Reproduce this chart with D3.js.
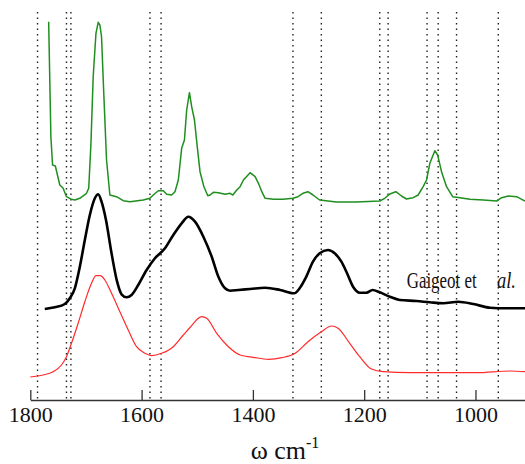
<!DOCTYPE html>
<html>
<head>
<meta charset="utf-8">
<script src="https://cdn.jsdelivr.net/npm/d3@7"></script>
<style>
  html, body { margin: 0; padding: 0; background: #fff; }
  svg { display: block; }
  svg text { font-family: "Liberation Serif", "Times New Roman", serif; }
</style>
</head>
<body>
<script>
// Vibrational spectra, wavenumber (cm^-1) vs. intensity (arbitrary units, offset per trace)
const tickValues = [1800, 1600, 1400, 1200, 1000];

// Reference band positions marked with dotted verticals
const bandLines = [1787, 1735, 1727, 1585, 1565, 1328, 1277, 1172, 1157, 1087, 1067, 1034, 959];

// Top trace (green)
const greenW = [1767,1763,1760,1755,1747,1741,1735,1726,1720,1711,1699,1695,1691,1687,1682,1678,1675,1672,1668,1663,1657,1645,1633,1621,1597,1585,1579,1570,1561,1555,1546,1540,1534,1528,1523,1519,1514,1510,1505,1500,1495,1488,1481,1477,1471,1462,1450,1441,1436,1429,1423,1417,1405,1396,1390,1384,1378,1363,1346,1328,1319,1310,1301,1292,1280,1250,1214,1172,1163,1154,1143,1133,1124,1112,1103,1094,1088,1082,1073,1068,1061,1052,1041,1028,1010,986,962,953,941,926,911];
const greenI = [378.3,263.3,235,234,215,211.7,203.3,200.7,200,201.7,206.7,211.7,256.7,323.3,366.7,377.7,375,363.3,307,240,205,203.3,199.3,198.3,200,201.7,205,209.3,209.3,205.7,205,208.3,220,251.7,260,290,307.3,293.3,280,253.3,228.3,213.3,204.3,205,207.7,207.3,205.7,206.7,205,210,213.3,220,227.3,223.3,216.7,208.3,201.7,200.7,200.7,201.7,203.3,206.7,208.3,205,200,198,198,199,201.7,206,208.3,204,201,202.3,205,213.3,220,236.7,249.3,245,228.3,213.3,203.3,202.3,200.7,200,199,202.3,204,203.3,199];

// Middle trace (black), Gaigeot et al.
const blackW = [1774,1756,1738,1729,1720,1711,1702,1693,1684,1678,1672,1664,1654,1644,1636,1627,1618,1606,1591,1576,1558,1543,1528,1516,1504,1489,1474,1462,1450,1441,1426,1405,1378,1351,1326,1316,1304,1292,1280,1265,1253,1241,1232,1220,1208,1196,1185,1172,1154,1136,1106,1082,1058,1031,1004,974,944,911];
const blackI = [91,92.7,96,101.7,111.7,133.3,160,185,201.7,205.7,198.3,180,146.7,118.3,105.7,102.7,105,115,130,141.7,151.7,165,176.7,183.3,178.3,163.3,143.3,123.3,111.7,109.3,110,111,112.3,110,106.7,111.7,123.3,138.3,146.7,150,146.7,138.3,128.3,113.3,107.3,107.3,110,107.7,103.3,100,99,97.7,96.7,98.3,96,92.3,91.7,91.7];

// Bottom trace (red)
const redW = [1800,1777,1759,1744,1735,1726,1714,1702,1690,1682,1674,1666,1654,1639,1624,1609,1594,1582,1564,1543,1525,1513,1492,1483,1465,1444,1423,1399,1372,1348,1324,1301,1277,1259,1247,1226,1208,1187,1166,1118,1058,998,938,911];
const redI = [23,25,28.3,35,43.3,56.7,76.7,98.3,116.7,124.3,124.3,120,106.7,88.3,70,53.3,46.7,44.3,46.7,53.3,65,72.5,83.3,81.7,66.7,53.3,45,42.7,40.7,42.3,46.7,58.3,68.3,74,71.7,56.7,43.3,31,28.3,27.3,27.3,27.3,29,28.3];

const W = 525, H = 464;
const axisY = 400;
const serif = "Liberation Serif, Times New Roman, serif";

const svg = d3.select("body").append("svg")
  .attr("width", W).attr("height", H)
  .attr("viewBox", `0 0 ${W} ${H}`);

const x = d3.scaleLinear().domain([1800, 911]).range([30.3, 525]);
const y = d3.scaleLinear().domain([0, 400]).range([axisY, 0]);

// dotted band markers
svg.append("g").selectAll("line").data(bandLines).join("line")
  .attr("x1", d => x(d)).attr("x2", d => x(d))
  .attr("y1", 12).attr("y2", axisY)
  .attr("stroke", "#222").attr("stroke-width", 1.4)
  .attr("stroke-dasharray", "1.4,4.1");

function trace(ws, is, color, width, curve) {
  const pts = ws.map((w, i) => [w, is[i]]);
  svg.append("path").datum(pts)
    .attr("fill", "none")
    .attr("stroke", color)
    .attr("stroke-width", width)
    .attr("stroke-linejoin", "round")
    .attr("d", d3.line().x(d => x(d[0])).y(d => y(d[1])).curve(curve));
}

trace(redW, redI, "#ff2a2a", 1.2, d3.curveMonotoneX);
trace(blackW, blackI, "#000", 2.6, d3.curveMonotoneX);
trace(greenW, greenI, "#1f8f1f", 1.5, d3.curveLinear);

// x axis: ticks pointing up into the plot, labels below
const axis = d3.axisBottom(x)
  .tickValues(tickValues)
  .tickFormat(d3.format("d"))
  .tickSizeInner(-10)
  .tickSizeOuter(0)
  .tickPadding(6);

const gx = svg.append("g").attr("transform", `translate(0,${axisY})`).call(axis)
  .attr("font-family", null).attr("font-size", null);
gx.select(".domain").attr("stroke", "#333").attr("stroke-width", 1.3);
gx.selectAll(".tick text")
  .style("font-family", serif).style("font-size", "22px").attr("fill", "#111");
gx.selectAll(".tick line").attr("stroke", "#333").attr("stroke-width", 1.3);

// axis title
const title = svg.append("text")
  .attr("x", 285).attr("y", 459)
  .attr("text-anchor", "middle")
  .style("font-family", serif).style("font-size", "26px").attr("fill", "#111");
title.append("tspan").text("ω cm");
title.append("tspan").style("font-size", "16px").attr("dy", -11).text("-1");

// trace label, horizontally condensed serif
function condensedText(str, x0, y0, width, italic) {
  const t = svg.append("text")
    .style("font-family", serif).style("font-size", "24px")
    .style("font-style", italic ? "italic" : "normal")
    .attr("fill", "#111")
    .text(str);
  const natural = t.node().getComputedTextLength();
  t.attr("transform", `translate(${x0},${y0}) scale(${width / natural},1)`);
  return t;
}
condensedText("Gaigeot et", 406.7, 288.3, 70, false);
condensedText("al.", 497, 288.3, 19, true);
</script>
</body>
</html>
